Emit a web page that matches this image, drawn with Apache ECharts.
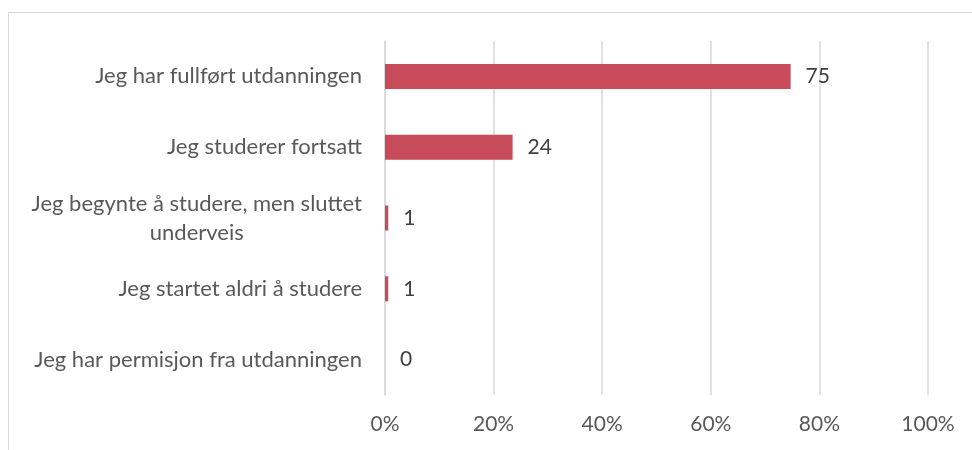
<!DOCTYPE html>
<html lang="no">

<head>
  <meta charset="UTF-8" />
  <title>Status utdanning</title>
  <script src="https://cdn.jsdelivr.net/npm/echarts@6/dist/echarts.min.js"></script>
</head>

<body style="margin: 0; overflow: hidden; background: #fff;">
  <div id="panel" style="width: 972px; height: 450px;"></div>
  <script>
    var categories = [
      'Jeg har fullført utdanningen',
      'Jeg studerer fortsatt',
      'Jeg begynte å studere, men sluttet\nunderveis',
      'Jeg startet aldri å studere',
      'Jeg har permisjon fra utdanningen'
    ];
    var values = [74.7, 23.5, 0.6, 0.6, 0];
    var valueLabels = ['75', '24', '1', '1', '0'];
    var ticks = [0, 20, 40, 60, 80, 100];

    var myChart = echarts.init(document.getElementById('panel'));
    var font = 'Lato';

    var option = {
      animation: false,
      graphic: [{
        type: 'rect',
        shape: { x: 8.5, y: 12.5, width: 1000, height: 500 },
        style: { fill: 'none', stroke: '#d9d9d9', lineWidth: 1 },
        silent: true
      }],
      grid: { left: 385, right: 44, top: 41, bottom: 55, containLabel: false },
      xAxis: {
        type: 'value',
        min: ticks[0],
        max: ticks[ticks.length - 1],
        interval: ticks[1] - ticks[0],
        axisLine: { show: false },
        axisTick: { show: false },
        splitLine: { lineStyle: { color: '#d9d9d9', width: 1.5 } },
        axisLabel: {
          formatter: '{value}%',
          color: '#595959',
          fontFamily: font,
          fontSize: 21,
          margin: 19
        }
      },
      yAxis: {
        type: 'category',
        inverse: true,
        data: categories,
        axisLine: { show: true, lineStyle: { color: '#d9d9d9', width: 1.5 } },
        axisTick: { show: false },
        axisLabel: {
          color: '#595959',
          fontFamily: font,
          fontSize: 22,
          margin: 23,
          lineHeight: 29,
          formatter: function (v) {
            return v.indexOf('\n') >= 0 ? '{c|' + v.split('\n').join('}\n{c|') + '}' : v;
          },
          rich: {
            c: { align: 'center', color: '#595959', fontFamily: font, fontSize: 22, lineHeight: 29 }
          }
        }
      },
      series: [{
        name: 'Andel',
        type: 'bar',
        data: values,
        barWidth: 25,
        itemStyle: { color: '#c84b5a' },
        label: {
          show: true,
          position: 'right',
          distance: 15,
          color: '#404040',
          fontFamily: font,
          fontSize: 21,
          formatter: function (p) { return valueLabels[p.dataIndex]; }
        }
      }]
    };

    myChart.setOption(option);

    window.addEventListener('resize', function () {
      myChart.resize();
    });
  </script>
</body>

</html>
